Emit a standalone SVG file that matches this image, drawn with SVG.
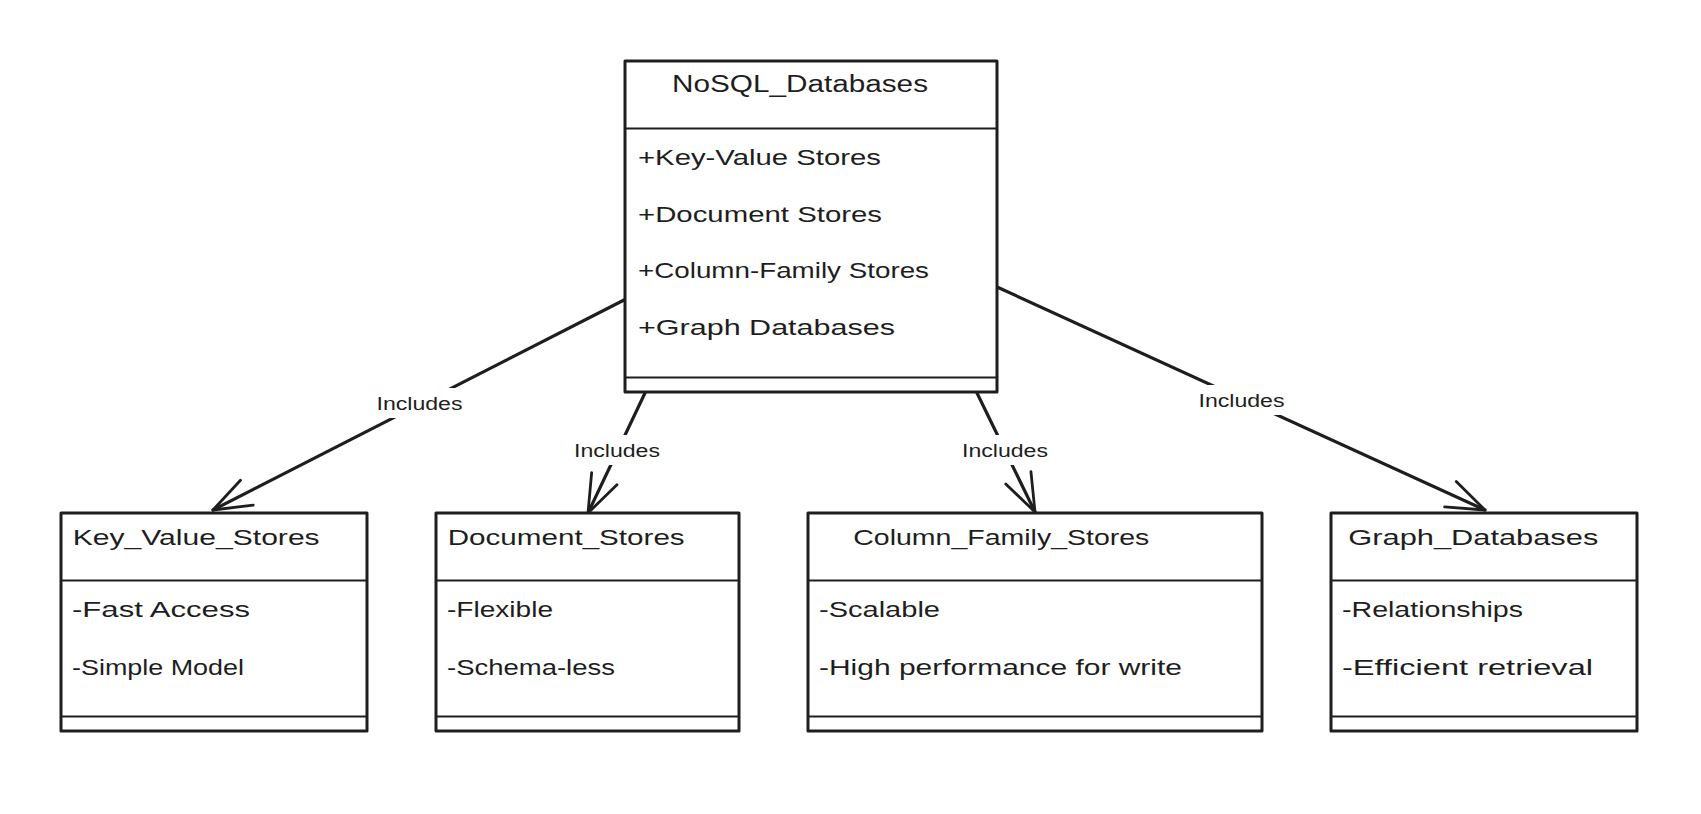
<svg xmlns="http://www.w3.org/2000/svg" width="1701" height="814" viewBox="0 0 1701 814">
<defs>
<style>
.box{fill:#ffffff;stroke:#1e1e1e;stroke-width:3;stroke-linejoin:round}
.div{stroke:#1e1e1e;stroke-width:2.2;fill:none}
.t{font-family:"Liberation Sans",Arial,sans-serif;font-size:22px;fill:#1e1e1e}
.h{font-family:"Liberation Sans",Arial,sans-serif;font-size:23px;fill:#1e1e1e}
.lbl{font-family:"Liberation Sans",Arial,sans-serif;font-size:18px;fill:#1e1e1e}
.edge{stroke:#1e1e1e;stroke-width:3.2;fill:none;stroke-linecap:round}
.lbg{fill:#ffffff}
</style>
<marker id="arr" markerUnits="userSpaceOnUse" markerWidth="60" markerHeight="40" viewBox="-45 -20 50 40" refX="0" refY="0" orient="auto" overflow="visible">
<path d="M-38,-14 L0,0 L-38,14" fill="none" stroke="#1e1e1e" stroke-width="2.8" stroke-linecap="round" stroke-linejoin="round"/>
</marker>
</defs>
<rect width="1701" height="814" fill="#ffffff"/>

<g id="connectors">
<path class="edge" d="M626,299 L213,510" marker-end="url(#arr)"/>
<path class="edge" d="M645,393 L588,513" marker-end="url(#arr)"/>
<path class="edge" d="M977,393 L1035,512" marker-end="url(#arr)"/>
<path class="edge" d="M997,287 L1485,510" marker-end="url(#arr)"/>
<rect class="lbg" x="372" y="388" width="96" height="30"/>
<text class="lbl" x="376.5" y="410" textLength="86" lengthAdjust="spacingAndGlyphs">Includes</text>
<rect class="lbg" x="570" y="435" width="96" height="30"/>
<text class="lbl" x="574" y="457" textLength="86" lengthAdjust="spacingAndGlyphs">Includes</text>
<rect class="lbg" x="958" y="435" width="96" height="30"/>
<text class="lbl" x="962" y="457" textLength="86" lengthAdjust="spacingAndGlyphs">Includes</text>
<rect class="lbg" x="1194" y="385" width="96" height="30"/>
<text class="lbl" x="1198.5" y="407" textLength="86" lengthAdjust="spacingAndGlyphs">Includes</text>
</g>

<g id="NoSQL_Databases">
<rect class="box" x="625" y="61" width="372" height="331"/>
<line class="div" x1="625" y1="128.5" x2="997" y2="128.5"/>
<line class="div" x1="625" y1="377.5" x2="997" y2="377.5"/>
<text class="h" x="672" y="92" textLength="256" lengthAdjust="spacingAndGlyphs">NoSQL_Databases</text>
<text class="t" x="638" y="165" textLength="243" lengthAdjust="spacingAndGlyphs">+Key-Value Stores</text>
<text class="t" x="638" y="222" textLength="244" lengthAdjust="spacingAndGlyphs">+Document Stores</text>
<text class="t" x="638" y="278" textLength="291" lengthAdjust="spacingAndGlyphs">+Column-Family Stores</text>
<text class="t" x="638" y="335" textLength="257" lengthAdjust="spacingAndGlyphs">+Graph Databases</text>
</g>

<g id="Key_Value_Stores">
<rect class="box" x="61" y="513" width="306" height="218"/>
<line class="div" x1="61" y1="580.5" x2="367" y2="580.5"/>
<line class="div" x1="61" y1="716.5" x2="367" y2="716.5"/>
<text class="t" x="72.7" y="545" textLength="247" lengthAdjust="spacingAndGlyphs">Key_Value_Stores</text>
<text class="t" x="72" y="617" textLength="178" lengthAdjust="spacingAndGlyphs">-Fast Access</text>
<text class="t" x="72" y="675" textLength="172" lengthAdjust="spacingAndGlyphs">-Simple Model</text>
</g>

<g id="Document_Stores">
<rect class="box" x="436" y="513" width="303" height="218"/>
<line class="div" x1="436" y1="580.5" x2="739" y2="580.5"/>
<line class="div" x1="436" y1="716.5" x2="739" y2="716.5"/>
<text class="t" x="447.7" y="545" textLength="237" lengthAdjust="spacingAndGlyphs">Document_Stores</text>
<text class="t" x="447" y="617" textLength="106" lengthAdjust="spacingAndGlyphs">-Flexible</text>
<text class="t" x="447" y="675" textLength="168" lengthAdjust="spacingAndGlyphs">-Schema-less</text>
</g>

<g id="Column_Family_Stores">
<rect class="box" x="808" y="513" width="454" height="218"/>
<line class="div" x1="808" y1="580.5" x2="1262" y2="580.5"/>
<line class="div" x1="808" y1="716.5" x2="1262" y2="716.5"/>
<text class="t" x="853.3" y="545" textLength="296" lengthAdjust="spacingAndGlyphs">Column_Family_Stores</text>
<text class="t" x="819" y="617" textLength="121" lengthAdjust="spacingAndGlyphs">-Scalable</text>
<text class="t" x="819" y="675" textLength="363" lengthAdjust="spacingAndGlyphs">-High performance for write</text>
</g>

<g id="Graph_Databases">
<rect class="box" x="1331" y="513" width="306" height="218"/>
<line class="div" x1="1331" y1="580.5" x2="1637" y2="580.5"/>
<line class="div" x1="1331" y1="716.5" x2="1637" y2="716.5"/>
<text class="t" x="1348.3" y="545" textLength="250" lengthAdjust="spacingAndGlyphs">Graph_Databases</text>
<text class="t" x="1342" y="617" textLength="181" lengthAdjust="spacingAndGlyphs">-Relationships</text>
<text class="t" x="1342" y="675" textLength="251" lengthAdjust="spacingAndGlyphs">-Efficient retrieval</text>
</g>
</svg>
